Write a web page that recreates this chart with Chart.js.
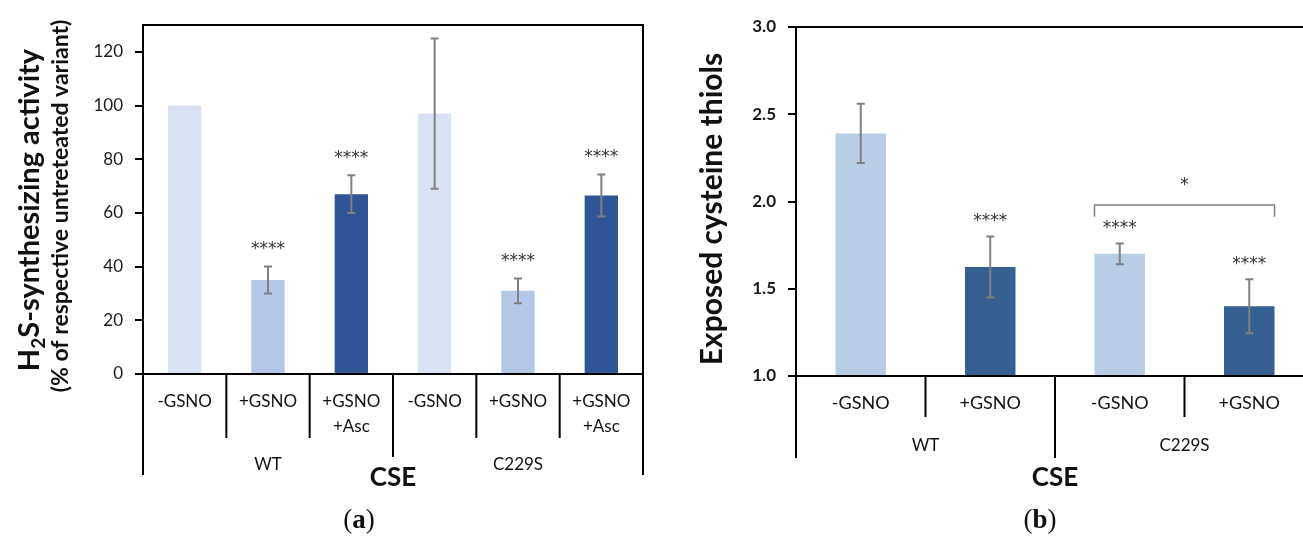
<!DOCTYPE html>
<html>
<head>
<meta charset="utf-8">
<script src="https://cdn.jsdelivr.net/npm/chart.js@4.4.1/dist/chart.umd.min.js"></script>
<style>
    html, body { margin: 0; padding: 0; background: #fff; overflow: hidden; }
    .panel { position: absolute; top: 0; }
</style>
</head>
<body>
<div class="panel" style="left:0"><canvas id="chartA" width="660" height="538"></canvas></div>
<div class="panel" style="left:660px"><canvas id="chartB" width="680" height="538"></canvas></div>
<script>
// panel (a) - H2S synthesizing activity
const aCategories = [['-GSNO'], ['+GSNO'], ['+GSNO', '+Asc'], ['-GSNO'], ['+GSNO'], ['+GSNO', '+Asc']];
const aGroups = ['WT', 'C229S'];
const aValues = [100, 35, 67, 97, 31, 66.5];
const aErrors = [0, 5, 7, 28, 4.6, 7.8];
const aStars = ['', '****', '****', '', '****', '****'];
const aTicks = [0, 20, 40, 60, 80, 100, 120];
const aColors = ['#DAE3F3', '#B4C7E7', '#2F5597', '#DAE3F3', '#B4C7E7', '#2F5597'];

// panel (b) - exposed cysteine thiols
const bCategories = [['-GSNO'], ['+GSNO'], ['-GSNO'], ['+GSNO']];
const bGroups = ['WT', 'C229S'];
const bValues = [2.39, 1.625, 1.70, 1.40];
const bErrors = [0.17, 0.175, 0.06, 0.155];
const bStars = ['', '****', '****', '****'];
const bTicks = [1.0, 1.5, 2.0, 2.5, 3.0];
const bColors = ['#B9CDE5', '#376092', '#B9CDE5', '#376092'];
const bBracket = { from: 2, to: 3, y: 1.98, drop: 0.067, label: '*' };

const FONT = 'Lato, "Open Sans", sans-serif';
const STAR_FONT = '17px "DejaVu Sans", sans-serif';

function drawRotated(ctx, parts, cx, cy) {
    // parts: [text, size, isSub]
    ctx.save();
    ctx.translate(cx, cy);
    ctx.rotate(-Math.PI / 2);
    ctx.textAlign = 'left';
    ctx.textBaseline = 'middle';
    let total = 0;
    parts.forEach(p => {
        ctx.font = `bold ${p[1]}px ${FONT}`;
        total += ctx.measureText(p[0]).width;
    });
    let pos = -total / 2;
    parts.forEach(p => {
        ctx.font = `bold ${p[1]}px ${FONT}`;
        ctx.fillText(p[0], pos, p[2] ? p[1] * 0.45 : 0);
        pos += ctx.measureText(p[0]).width;
    });
    ctx.restore();
}

function decor(spec) {
    return {
        id: 'decor',
        afterDatasetsDraw(chart) {
            const ctx = chart.ctx, x = chart.scales.x, y = chart.scales.y;
            ctx.save();
            spec.values.forEach((v, i) => {
                const cx = x.getPixelForValue(i);
                const err = spec.errors[i];
                const top = y.getPixelForValue(v + err);
                if (err) {
                    const bot = y.getPixelForValue(v - err);
                    ctx.strokeStyle = '#808080';
                    ctx.lineWidth = 2;
                    ctx.beginPath();
                    ctx.moveTo(cx, top); ctx.lineTo(cx, bot);
                    ctx.moveTo(cx - 4, top); ctx.lineTo(cx + 4, top);
                    ctx.moveTo(cx - 4, bot); ctx.lineTo(cx + 4, bot);
                    ctx.stroke();
                }
                if (spec.stars[i]) {
                    ctx.fillStyle = '#333';
                    ctx.font = STAR_FONT;
                    ctx.textAlign = 'center';
                    ctx.textBaseline = 'middle';
                    ctx.fillText(spec.stars[i], cx, top - spec.starGap + 3);
                }
            });
            if (spec.bracket) {
                const br = spec.bracket, bars = chart.getDatasetMeta(0).data;
                const x1 = bars[br.from].x - bars[br.from].width / 2;
                const x2 = bars[br.to].x + bars[br.to].width / 2;
                const yb = y.getPixelForValue(br.y), yd = y.getPixelForValue(br.y - br.drop);
                ctx.strokeStyle = '#808080';
                ctx.lineWidth = 1.5;
                ctx.beginPath();
                ctx.moveTo(x1, yd); ctx.lineTo(x1, yb); ctx.lineTo(x2, yb); ctx.lineTo(x2, yd);
                ctx.stroke();
                ctx.fillStyle = '#333';
                ctx.font = STAR_FONT;
                ctx.textAlign = 'center';
                ctx.textBaseline = 'middle';
                ctx.fillText(br.label, (x1 + x2) / 2, yb - 19);
            }
            ctx.restore();
        },
        afterDraw(chart) {
            const ctx = chart.ctx, x = chart.scales.x;
            const { left, right, top, bottom } = chart.chartArea;
            ctx.save();
            ctx.strokeStyle = '#000';
            ctx.lineWidth = 2;
            ctx.strokeRect(left, top, right - left, bottom - top);

            // category separators
            const n = spec.categories.length;
            const half = (x.getPixelForValue(1) - x.getPixelForValue(0)) / 2;
            ctx.beginPath();
            for (let i = 0; i <= n; i++) {
                const bx = i === n ? x.getPixelForValue(n - 1) + half : x.getPixelForValue(i) - half;
                let end = spec.shortEnd;
                if (i === 0 || i === n) end = spec.outerEnd;
                else if (i % spec.groupSize === 0) end = spec.groupEnd;
                ctx.moveTo(bx, bottom);
                ctx.lineTo(bx, end);
            }
            ctx.stroke();

            ctx.fillStyle = '#111';
            ctx.textAlign = 'center';
            ctx.textBaseline = 'middle';
            ctx.font = `${spec.catSize}px ${FONT}`;
            spec.categories.forEach((lines, i) => {
                lines.forEach((t, k) => ctx.fillText(t, x.getPixelForValue(i), spec.catY + k * 25));
            });
            ctx.font = `${spec.groupSize2}px ${FONT}`;
            spec.groups.forEach((g, gi) => {
                const a = x.getPixelForValue(gi * spec.groupSize);
                const b = x.getPixelForValue(gi * spec.groupSize + spec.groupSize - 1);
                ctx.fillText(g, (a + b) / 2, spec.groupY);
            });
            ctx.font = `bold 26px ${FONT}`;
            ctx.fillText('CSE', (left + right) / 2, 478);

            // panel letter
            ctx.font = '27px "Liberation Serif", serif';
            const wo = ctx.measureText('(').width, wc = ctx.measureText(')').width;
            ctx.font = 'bold 27px "Liberation Serif", serif';
            const wl = ctx.measureText(spec.panel).width;
            let px = spec.panelX - (wo + wl + wc) / 2;
            ctx.textAlign = 'left';
            ctx.font = '27px "Liberation Serif", serif';
            ctx.fillText('(', px, 521);
            ctx.font = 'bold 27px "Liberation Serif", serif';
            ctx.fillText(spec.panel, px + wo, 521);
            ctx.font = '27px "Liberation Serif", serif';
            ctx.fillText(')', px + wo + wl, 521);

            spec.title.forEach(t => drawRotated(ctx, t.parts, t.x, t.y));
            ctx.restore();
        }
    };
}

function makeChart(id, spec) {
    return new Chart(document.getElementById(id), {
        type: 'bar',
        data: {
            labels: spec.categories.map(c => c.join(' ')),
            datasets: [{
                data: spec.values,
                backgroundColor: spec.colors,
                borderWidth: 0,
                barPercentage: spec.barPct,
                categoryPercentage: 1
            }]
        },
        options: {
            responsive: false,
            animation: false,
            layout: { padding: spec.padding },
            plugins: { legend: { display: false }, tooltip: { enabled: false } },
            scales: {
                x: { display: false },
                y: {
                    min: spec.min,
                    max: spec.max,
                    afterFit: s => { s.width = spec.axisWidth; },
                    afterBuildTicks: s => { s.ticks = spec.ticks.map(v => ({ value: v })); },
                    ticks: {
                        padding: 12,
                        color: '#1a1a1a',
                        font: { family: FONT, size: 17, weight: spec.tickWeight },
                        callback: spec.fmt
                    },
                    grid: { drawOnChartArea: false, tickLength: 8, color: '#000', lineWidth: 2 },
                    border: { display: false }
                }
            }
        },
        plugins: [decor(spec)]
    });
}

makeChart('chartA', {
    categories: aCategories, groups: aGroups, values: aValues, errors: aErrors,
    stars: aStars, ticks: aTicks, colors: aColors, min: 0, max: 130,
    fmt: v => v, tickWeight: 'normal', barPct: 0.4, axisWidth: 143,
    padding: { top: 25, right: 17, bottom: 164, left: 0 },
    starGap: 20, groupSize: 3, shortEnd: 438, groupEnd: 457, outerEnd: 475,
    catY: 402, catSize: 17, groupY: 465, groupSize2: 17,
    panel: 'a', panelX: 359,
    title: [
        { x: 30, y: 210, parts: [['H', 29], ['2', 19, true], ['S-synthesizing activity', 29]] },
        { x: 61, y: 206, parts: [['(% of respective untreteated variant)', 23]] }
    ]
});

makeChart('chartB', {
    categories: bCategories, groups: bGroups, values: bValues, errors: bErrors,
    stars: bStars, ticks: bTicks, colors: bColors, min: 1, max: 3,
    fmt: v => Number(v).toFixed(1), tickWeight: 'bold', barPct: 0.39, axisWidth: 136,
    padding: { top: 27, right: 26, bottom: 162, left: 0 },
    starGap: 18, groupSize: 2, shortEnd: 417, groupEnd: 458, outerEnd: 458,
    catY: 403, catSize: 18, groupY: 446, groupSize2: 17,
    bracket: bBracket,
    panel: 'b', panelX: 380,
    title: [
        { x: 52, y: 209, parts: [['Exposed cysteine thiols', 30]] }
    ]
});
</script>
</body>
</html>
